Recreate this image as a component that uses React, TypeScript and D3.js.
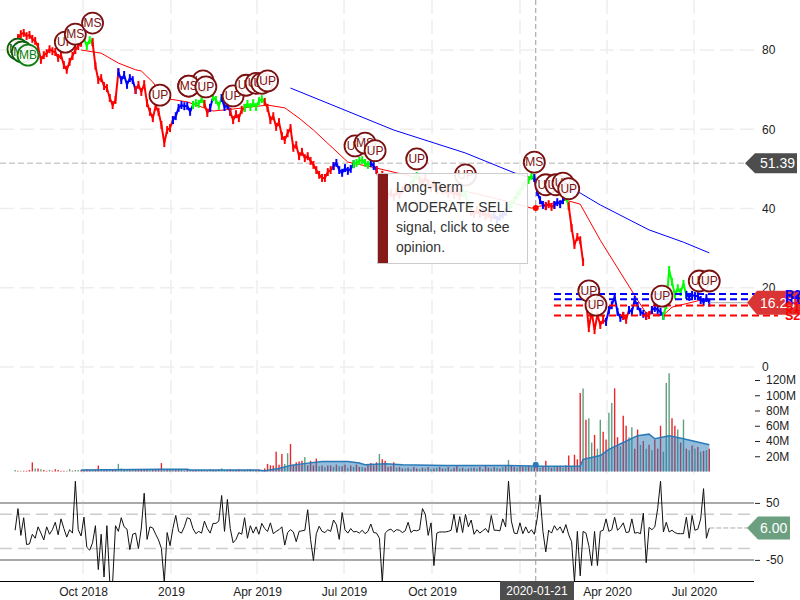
import * as d3 from 'd3';
import { useEffect, useRef } from 'react';

// sampled every 3 calendar days, first sample on startDate
const startDate = new Date(2018, 6, 22);
const stepDays = 3;

const closes = [
  82, 83, 84, 84.3, 83.5, 83.8, 82.8, 82.3, 80.8, 77.5,
  78.7, 79.2, 80.2, 79.7, 79.5, 78, 78.7, 76.2, 75, 77,
  78.5, 80, 81, 81.8, 83, 81, 82.5, 82, 76, 72.4,
  72.9, 70.9, 70.4, 67.9, 66.1, 67.4, 74.4, 72.4, 73.7, 71.2,
  72.9, 72.4, 69.9, 71.2, 69.4, 71.4, 66.6, 64.4, 62.8, 65.8,
  64.4, 61.1, 56.5, 59.8, 60.3, 62.3, 63.3, 65.4, 66.1, 65.8,
  65.9, 64.4, 66.1, 66.6, 66.4, 67.6, 66.4, 64.1, 65.4, 68.1,
  67.4, 65.9, 67.9, 65.6, 66.1, 64.4, 62.3, 63.8, 62.8, 64.9,
  65.4, 66.4, 65.6, 66.6, 65.6, 67.1, 67.6, 66.9, 65.4, 62.3,
  63.3, 60.6, 61.8, 58.3, 57.3, 59, 60.3, 55.3, 56, 53.2,
  54.3, 52.7, 53.2, 52, 51, 49.7, 48.5, 47.7, 47.7, 49.2,
  49.7, 50.7, 51.5, 49.7, 49, 50.2, 49.5, 50, 51.2, 51.5,
  52, 52.2, 51.5, 51, 51.5, 50.7, 49.7, 46.7, 48.5, 44.7,
  43.4, 43.9, 42.9, 44.2, 43.4, 44.7, 45.4, 45.2, 46.2, 47.4,
  48.2, 47.2, 46.4, 47.7, 46.4, 45.2, 46.2, 44.7, 45.7, 44.4,
  44.7, 43.7, 44.7, 43.4, 44.2, 43.2, 43.9, 43.7, 40.9, 39.1,
  38.6, 39.6, 38.6, 39.1, 38.1, 38.6, 37.6, 38.4, 37.1, 37.9,
  38.4, 39.1, 40.1, 41.1, 42.1, 43.4, 44.2, 45.7, 46.4, 47.2,
  48.2, 47.7, 44.2, 42.1, 40.9, 40.6, 41.1, 40.4, 40.9, 41.6,
  41.1, 42.1, 42.9, 40.6, 35.1, 30.8, 32.8, 32, 26.5, 16.9,
  9.8, 13.9, 9.3, 13.2, 10.6, 11.9, 11.4, 14.4, 15.6, 17.7,
  13.9, 12.4, 12.9, 11.9, 14.4, 13.9, 16.9, 15.4, 13.9, 13.4,
  12.9, 13.1, 14.4, 14.9, 14.4, 13.9, 12.9, 15.6, 24.5, 21.5,
  18.2, 19.9, 18.9, 21, 18.2, 17.7, 18.2, 17.9, 17.9, 16.9,
  16.4, 17.4, 16.23,
];

// half of a sample's high-low range, in dollars
const barHalfRange = 1;

// sample index where each signal regime starts
const regimeStarts = [0, 24, 27, 36, 42, 55, 62, 66, 68, 69, 72, 75, 80, 87, 111, 118, 124, 126, 138, 141, 156, 159, 167, 172, 181, 185, 188, 192, 193, 198, 199, 206, 212, 214, 220, 222, 226, 234];
const regimeNames = ['sell', 'buy', 'sell', 'hold', 'sell', 'hold', 'buy', 'sell', 'hold', 'buy', 'hold', 'sell', 'buy', 'sell', 'hold', 'buy', 'hold', 'sell', 'buy', 'sell', 'buy', 'sell', 'hold', 'buy', 'hold', 'sell', 'hold', 'buy', 'sell', 'gap', 'sell', 'hold', 'sell', 'hold', 'sell', 'hold', 'buy', 'hold'];

const fastMaIdx = [23, 30, 36, 42, 44, 48, 50, 54, 60, 69, 76, 88, 94, 99, 104, 116, 126, 133, 141, 155, 170, 180, 192, 197, 204, 217, 220, 226, 229, 238, 242];
const fastMaValues = [80, 79.2, 76.7, 75, 74.7, 71.9, 69.9, 67.6, 66.9, 64.6, 65.1, 66.1, 65.4, 62.8, 59.8, 51.7, 50.2, 49, 47.7, 44.7, 42.1, 40.1, 42.1, 41.1, 32, 16.9, 13.6, 13.1, 15.1, 16.7, 17.2];
const slowMaIdx = [96, 132, 157, 174, 197, 204, 221, 233, 242];
const slowMaValues = [70.4, 59.8, 54, 49, 43.9, 40.9, 34.6, 31.5, 28.8];

// millions of shares, negative = down day (red), positive = up day (green)
const volumes = [
  2, -1, 1, -1, -1, -2, -12, 4, -4, 3,
  -2, -1, 2, -1, -3, -2, -1, -1, 1, 3,
  -1, 2, 2, -2, -2, -3, -2, 2, -2, -8,
  3, -2, -3, 2, -3, -2, 10, 4, -2, 3,
  -2, 2, -3, -2, -3, -3, -2, 3, -2, -3,
  -3, -11, 3, -2, -2, 2, -2, -2, 2, -1,
  -2, 2, -1, -2, 2, -2, 2, -1, 3, -2,
  -2, 3, 4, 2, -2, -3, 2, -2, -3, 2,
  -2, 3, -3, 2, -2, -3, 2, -4, -10, -8,
  -8, -26, -9, -23, 10, 24, -36, -9, -12, -13,
  -14, 19, -8, -14, -8, -17, 7, -8, 6, -8,
  -8, 6, -9, 7, -7, -9, 5, -8, 6, -9,
  -6, 6, -5, -9, -11, -8, -12, 23, -16, -14,
  -6, -7, -12, 5, -6, -4, 4, -5, 3, -6,
  -4, 3, -5, 4, -6, 3, -4, 5, -6, -4,
  4, -6, 3, -5, -8, 4, -5, 3, -4, 5,
  -5, 4, -6, 3, -7, -5, 4, -6, 5, -4,
  6, -7, 15, -8, -6, 5, -7, -6, 7, -8,
  6, -8, -7, 5, -6, -14, 7, -5, 6, -7,
  -6, 5, -8, -21, 7, -22, -16, -103, 109, -68,
  70, 38, -48, 30, 68, -52, -42, 77, 90, -109,
  -45, 33, -73, -60, 45, 58, -30, -55, 35, -40,
  30, -35, 28, -42, -30, -60, 26, 116, 129, -70,
  -60, 55, -38, 68, -30, 28, -34, 30, -32, 26,
  -27, 28, -30,
];

const volumeMaIdx = [23, 51, 60, 61, 84, 87, 92, 96, 100, 107, 116, 120, 122, 129, 135, 150, 170, 184, 197, 198, 204, 207, 212, 217, 221, 223, 228, 233, 242];
const volumeMaValues = [2, 3, 3, 2, 2, 1, 4, 8, 10, 13, 13, 11, 9, 10, 9, 8, 8, 7, 7, 16, 21, 29, 38, 47, 49, 43, 47, 43, 35];

const oscillator = [
  2, 40, -7, 24, -23, -22, -5, -12, 8, -3,
  -15, 8, -5, 3, 16, -6, 22, 5, -10, 3,
  -3, 88, 3, -8, 25, -28, -33, -20, 10, -67,
  -5, -80, 10, -89, -89, 10, 0, 24, 8, 4,
  -32, -5, -3, -30, 6, 67, -14, 8, 6, -5,
  -15, -30, -89, -2, -25, 5, 28, 0, -3, 8,
  24, 22, 5, -4, 0, -3, 18, 5, -3, 14,
  14, 18, 63, 0, 56, 5, -20, -14, -2, -5,
  24, -12, 10, -3, 8, -5, 14, 5, 0, 15,
  -4, 0, 3, 8, -24, -2, 3, -1, -18, 0,
  1, 2, 38, -14, -51, -4, 9, 0, -2, 3,
  0, 20, 12, -14, 33, 3, -3, 5, -1, 0,
  -3, 2, -4, 0, 13, -2, -3, -12, -89, -3,
  2, 4, -1, 3, 2, -2, 1, 16, -2, 2,
  1, 3, 40, 30, -7, 15, -60, -3, -1, -1,
  -1, 0, 2, 30, -2, 26, -2, 30, 8, 20,
  -5, 3, -3, 1, 5, -2, 28, 2, 2, 1,
  22, 8, 88, 18, -3, -4, 15, -4, 8, -3,
  3, -5, 22, 64, 0, -36, 2, -3, 10, 2,
  8, -3, 12, -6, -18, -89, 0, -78, 0, -3,
  -25, -60, 0, -60, 0, 2, 22, 0, 3, 25,
  2, 7, 15, -2, -1, 22, -3, -2, -4, 32,
  -55, 7, 3, 8, 40, 88, -1, 16, -1, 2,
  -2, -4, -4, -4, 25, -12, 28, 2, 4, 22,
  75, -12, 6,
];

// signal bubbles, in draw order
const signalLabels = ['MB', 'MB', 'MB', 'UP', 'MS', 'MS', 'UP', 'MS', 'UP', 'MS', 'UP', 'UP', 'UP', 'UP', 'UP', 'UP', 'UP', 'MS', 'UP', 'UP', 'UP', 'MS', 'UP', 'UP', 'UP', 'UP', 'UP', 'UP', 'UP', 'UP', 'UP'];
const signalIdx = [1, 2.5, 4.5, 17.5, 21, 27, 50.5, 60.5, 65.5, 60.5, 66.5, 76, 80.5, 84, 86, 88, 118.5, 122, 125.5, 140, 157, 181, 185, 188.5, 191, 193, 200, 202.5, 225.5, 238.5, 242];
const signalPrices = [80.2, 79.5, 78.7, 82, 84, 86.8, 68.6, 70.9, 72.2, 70.9, 70.7, 68.4, 71.1, 71.6, 71.6, 72.2, 55.8, 56.5, 54.6, 52.5, 48.5, 51.7, 46, 46, 46.4, 45, 19.2, 15.6, 17.9, 21.7, 21.7];
const signalDark = [true, true, false];

const xTickDates = [new Date(2018, 9, 1), new Date(2019, 0, 1), new Date(2019, 3, 1), new Date(2019, 6, 1), new Date(2019, 9, 1), new Date(2020, 3, 1), new Date(2020, 6, 1)];
const xTickLabels = ['Oct 2018', '2019', 'Apr 2019', 'Jul 2019', 'Oct 2019', 'Apr 2020', 'Jul 2020'];
const gridDates = [...xTickDates, new Date(2020, 0, 1)];
const priceTicks = [0, 20, 40, 60, 80];
const volumeTicks = [20, 40, 60, 80, 100, 120];
const oscTicks = [-50, 50];
const pivots = [
  { name: 'R2', value: 18.4, color: '#0000ff' },
  { name: 'R1', value: 17.1, color: '#0000ff' },
  { name: 'S1', value: 15.5, color: '#ff0000' },
  { name: 'S2', value: 13, color: '#ff0000' },
];

const crossLabel = '2020-01-21';
const crossSample = 181.5;
const crossPrice = 51.39;
const crossFastMa = 40.1;
const crossVolumeMa = 9;
const lastPrice = 16.23;
const lastOsc = 6;
const tooltipLines = ['Long-Term', 'MODERATE SELL', 'signal, click to see', 'opinion.'];

const regimeColors: Record<string, string> = { sell: '#ff0000', hold: '#0000ff', buy: '#00ff00' };
const font = 'Arial, "Liberation Sans", sans-serif';

export default function App() {
  const svgCur = useRef<SVGSVGElement>(null);

  useEffect(() => {
    if (!svgCur.current) return;
    const svg = d3.select(svgCur.current);
    svg.selectAll('*').remove();

    const dateOf = (i: number) => d3.timeHour.offset(startDate, i * stepDays * 24);
    const x = d3.scaleTime()
      .domain([new Date(2018, 9, 1), new Date(2020, 6, 1)])
      .range([83, 694]);
    const xi = (i: number) => x(dateOf(i));

    const yPrice = d3.scaleLinear().domain([0, 80]).range([367, 50]);
    const yVol = d3.scaleLinear().domain([0, 120]).range([471.5, 380]);
    const yOsc = d3.scaleLinear().domain([-50, 50]).range([559.9, 502.9]);

    const chartRight = 754;
    const bottom = 581;

    // grids
    const grid = svg.append('g').attr('fill', 'none');
    grid.selectAll('.v').data(gridDates).join('line')
      .attr('x1', d => x(d)).attr('x2', d => x(d))
      .attr('y1', 0).attr('y2', bottom)
      .attr('stroke', '#eeeeee').attr('stroke-width', 1.5).attr('stroke-dasharray', '14,6');
    grid.selectAll('.h').data(priceTicks).join('line')
      .attr('x1', 0).attr('x2', chartRight)
      .attr('y1', d => yPrice(d)).attr('y2', d => yPrice(d))
      .attr('stroke', '#eeeeee').attr('stroke-width', 1.5).attr('stroke-dasharray', '14,6');

    // oscillator bands
    grid.selectAll('.band').data(oscTicks).join('line')
      .attr('x1', 0).attr('x2', chartRight)
      .attr('y1', d => yOsc(d)).attr('y2', d => yOsc(d))
      .attr('stroke', '#aaaaaa').attr('stroke-width', 2);
    grid.selectAll('.inner').data([-30, 30]).join('line')
      .attr('x1', 0).attr('x2', chartRight)
      .attr('y1', d => yOsc(d)).attr('y2', d => yOsc(d))
      .attr('stroke', '#cccccc').attr('stroke-width', 1.5).attr('stroke-dasharray', '12,6');

    // volume
    svg.append('g').selectAll('line').data(volumes).join('line')
      .attr('x1', (_, i) => xi(i)).attr('x2', (_, i) => xi(i))
      .attr('y1', yVol(0)).attr('y2', d => yVol(Math.abs(d)))
      .attr('stroke', d => (d < 0 ? '#e8272a' : '#5f9f7f'))
      .attr('stroke-width', 1.4);

    const volArea = d3.area<number>()
      .x((_, i) => xi(volumeMaIdx[i]))
      .y0(yVol(0))
      .y1(d => yVol(d));
    const volLine = d3.line<number>()
      .x((_, i) => xi(volumeMaIdx[i]))
      .y(d => yVol(d));
    svg.append('path').attr('d', volArea(volumeMaValues))
      .attr('fill', '#2a7ab8').attr('fill-opacity', 0.5);
    svg.append('path').attr('d', volLine(volumeMaValues))
      .attr('fill', 'none').attr('stroke', '#2a7ab8').attr('stroke-width', 1.5);

    // crosshair
    svg.append('line')
      .attr('x1', 0).attr('x2', 746)
      .attr('y1', yPrice(crossPrice)).attr('y2', yPrice(crossPrice))
      .attr('stroke', '#cccccc').attr('stroke-width', 1.5).attr('stroke-dasharray', '6,3');
    svg.append('line')
      .attr('x1', xi(crossSample)).attr('x2', xi(crossSample))
      .attr('y1', 0).attr('y2', bottom)
      .attr('stroke', '#999999').attr('stroke-dasharray', '5,3');

    // moving averages
    const maLine = (idx: number[]) => d3.line<number>()
      .x((_, i) => xi(idx[i]))
      .y(d => yPrice(d));
    svg.append('path').attr('d', maLine(fastMaIdx)(fastMaValues))
      .attr('fill', 'none').attr('stroke', '#ff0000').attr('stroke-width', 1);
    svg.append('path').attr('d', maLine(slowMaIdx)(slowMaValues))
      .attr('fill', 'none').attr('stroke', '#0000ff').attr('stroke-width', 1);

    // price, one path per signal regime: a line plus a high-low bar per sample
    const priceLine = d3.line<number>()
      .defined(v => !isNaN(v))
      .x((_, i) => xi(i))
      .y(d => yPrice(d));
    regimeStarts.forEach((start, r) => {
      if (regimeNames[r] === 'gap') return;
      const end = r + 1 < regimeStarts.length ? regimeStarts[r + 1] : closes.length - 1;
      const color = regimeColors[regimeNames[r]];
      const slice = closes.map((v, i) => (i >= start && i <= end ? v : NaN));
      svg.append('path')
        .attr('d', priceLine(slice))
        .attr('fill', 'none')
        .attr('stroke', color)
        .attr('stroke-width', 2);
      svg.append('g').selectAll('line').data(d3.range(start, end + 1)).join('line')
        .attr('x1', i => xi(i)).attr('x2', i => xi(i))
        .attr('y1', i => yPrice(closes[i] + barHalfRange))
        .attr('y2', i => yPrice(closes[i] - barHalfRange))
        .attr('stroke', color)
        .attr('stroke-width', 2);
    });

    // crosshair dots
    svg.append('circle').attr('cx', xi(crossSample)).attr('cy', yPrice(crossFastMa)).attr('r', 3).attr('fill', '#ff0000');
    svg.append('circle').attr('cx', xi(crossSample)).attr('cy', yVol(crossVolumeMa)).attr('r', 3).attr('fill', '#2a7ab8');

    // pivot levels
    pivots.forEach(p => {
      svg.append('line')
        .attr('x1', 554).attr('x2', 778)
        .attr('y1', yPrice(p.value)).attr('y2', yPrice(p.value))
        .attr('stroke', p.color).attr('stroke-width', 2).attr('stroke-dasharray', '7,4');
    });

    // oscillator
    svg.append('clipPath').attr('id', 'osc-clip').append('rect')
      .attr('x', 0).attr('y', 470).attr('width', 760).attr('height', bottom - 470);
    const oscLine = d3.line<number>().x((_, i) => xi(i)).y(d => yOsc(d));
    svg.append('path').attr('d', oscLine(oscillator))
      .attr('clip-path', 'url(#osc-clip)')
      .attr('fill', 'none').attr('stroke', '#111111').attr('stroke-width', 1);
    svg.append('line')
      .attr('x1', xi(242)).attr('x2', 748)
      .attr('y1', yOsc(lastOsc)).attr('y2', yOsc(lastOsc))
      .attr('stroke', '#aaaaaa').attr('stroke-dasharray', '5,2');
    svg.append('line')
      .attr('x1', xi(242)).attr('x2', 748)
      .attr('y1', yPrice(lastPrice)).attr('y2', yPrice(lastPrice))
      .attr('stroke', '#aaaaaa');

    // axes
    const styleAxis = (g: d3.Selection<SVGGElement, unknown, null, undefined>) => {
      g.attr('font-family', font).attr('font-size', 12);
      g.selectAll('text').attr('fill', '#222222');
      g.select('.domain').remove();
    };
    const xAxis = d3.axisBottom(x)
      .tickValues(xTickDates)
      .tickSize(0)
      .tickPadding(6)
      .tickFormat((_, i) => xTickLabels[i]);
    svg.append('g').attr('transform', `translate(0,${bottom})`).call(xAxis).call(styleAxis);
    svg.append('line')
      .attr('x1', 0).attr('x2', chartRight)
      .attr('y1', bottom + 0.5).attr('y2', bottom + 0.5)
      .attr('stroke', '#000000');

    const priceAxis = d3.axisRight(yPrice).tickValues(priceTicks).tickSize(0).tickPadding(0);
    svg.append('g').attr('transform', 'translate(762,0)').call(priceAxis).call(styleAxis);

    const volAxis = d3.axisRight(yVol).tickValues(volumeTicks).tickSize(5).tickPadding(6)
      .tickFormat(d => `${d}M`);
    svg.append('g').attr('transform', 'translate(755,0)').call(volAxis).call(styleAxis)
      .call(g => g.selectAll('line').attr('stroke', '#222222'));

    const oscAxis = d3.axisRight(yOsc).tickValues(oscTicks).tickSize(5).tickPadding(6)
      .tickFormat(d => `${d}`);
    svg.append('g').attr('transform', 'translate(755,0)').call(oscAxis).call(styleAxis)
      .call(g => g.selectAll('line').attr('stroke', '#222222'));

    // signal bubbles
    const bubbles = svg.append('g').selectAll('g').data(signalLabels).join('g')
      .attr('transform', (_, i) => `translate(${xi(signalIdx[i])},${yPrice(signalPrices[i])})`);
    const bubbleColor = (d: string, i: number) =>
      d === 'MB' ? (signalDark[i] ? '#0b5d0b' : '#0f7f0f') : '#7a1010';
    bubbles.append('circle')
      .attr('r', 10.5)
      .attr('fill', 'rgba(255,255,255,0.9)')
      .attr('stroke', bubbleColor)
      .attr('stroke-width', 1.8);
    bubbles.append('text')
      .text(d => d)
      .attr('text-anchor', 'middle')
      .attr('dy', 4)
      .attr('font-family', font)
      .attr('font-size', 12)
      .attr('fill', bubbleColor);

    // pivot names sit over the price tag
    const tag = (y: number, tipX: number, bodyX: number, rightX: number, half: number, fill: string, label: string, textX: number) => {
      const p = d3.path();
      p.moveTo(tipX, y);
      p.lineTo(bodyX, y - half);
      p.lineTo(rightX, y - half);
      p.lineTo(rightX, y + half);
      p.lineTo(bodyX, y + half);
      p.closePath();
      svg.append('path').attr('d', p.toString()).attr('fill', fill);
      svg.append('text').text(label)
        .attr('x', textX).attr('y', y + 5)
        .attr('font-family', font).attr('font-size', 14).attr('fill', '#ffffff');
    };
    tag(yPrice(crossPrice), 745, 755, 797, 10, '#4d4d4d', crossPrice.toFixed(2), 760);
    tag(yPrice(lastPrice), 747, 757, 800, 12, '#d93535', lastPrice.toFixed(2), 760);
    tag(yOsc(lastOsc), 747, 758, 790, 11.5, '#6b9f7f', lastOsc.toFixed(2), 760);

    pivots.forEach(p => {
      svg.append('text').text(p.name)
        .attr('x', 785).attr('y', yPrice(p.value) + 5)
        .attr('font-family', font).attr('font-size', 12.5).attr('font-weight', 'bold').attr('fill', p.color);
    });

    // date label under the crosshair
    svg.append('rect').attr('x', 500).attr('y', 581).attr('width', 74).attr('height', 19).attr('fill', '#4d4d4d');
    svg.append('text').text(crossLabel)
      .attr('x', 537).attr('y', 595)
      .attr('text-anchor', 'middle')
      .attr('font-family', font).attr('font-size', 12).attr('fill', '#ffffff');

    // tooltip
    const tip = svg.append('g').attr('transform', 'translate(377.5,173.5)');
    tip.append('rect').attr('width', 150).attr('height', 90)
      .attr('fill', 'rgba(255,255,255,0.9)').attr('stroke', '#cccccc');
    tip.append('rect').attr('x', 0.5).attr('y', 0.5).attr('width', 10).attr('height', 89).attr('fill', '#861a1a');
    tip.selectAll('text').data(tooltipLines).join('text')
      .text(d => d)
      .attr('x', 18.5)
      .attr('y', (_, i) => 18.5 + i * 20)
      .attr('font-family', font).attr('font-size', 14).attr('fill', '#333333');
  }, []);

  return (
    <svg ref={svgCur} width={800} height={600} style={{ position: 'absolute', left: 0, top: 0, background: '#ffffff' }} />
  );
}
